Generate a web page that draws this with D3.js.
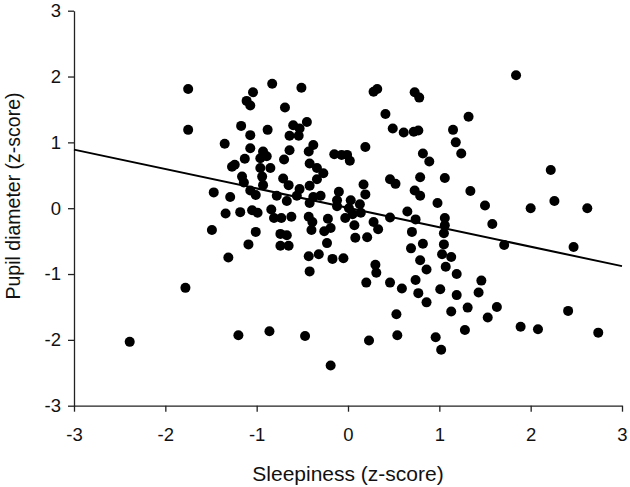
<!DOCTYPE html>
<html>
<head>
<meta charset="utf-8">
<script src="https://cdn.jsdelivr.net/npm/d3@7"></script>
<style>
  body { margin: 0; background: #fff; }
  text { font-family: "Liberation Sans", Arial, sans-serif; fill: #111; }
</style>
</head>
<body>
<script>
// sleepiness (x) and pupil diameter (y), z-scores
var sleepiness = [
  -2.39, -1.78, -1.75, -1.75, -0.83, -0.51, -1.04, -1.11, -1.07, -0.69,
  -1.17, -0.88, -1.07, -0.60, -0.53, -0.45, -0.64, -0.54, -1.35, -0.38,
  -1.07, -0.93, -0.89, -0.96, -0.64, -0.43, -1.13, -1.24, -1.27, -0.70,
  -0.96, -0.85, -0.42, -0.34, -0.27, -1.16, -0.94, -0.71, -0.34, -1.14,
  -0.93, -0.65, -0.42, -1.47, -1.29, -1.07, -1.01, -0.78, -0.67, -0.56,
  -0.53, -0.38, -0.30, -0.42, -1.34, -1.18, -1.05, -0.99, -0.84, -0.81,
  -0.73, -0.62, -0.43, -0.39, -0.40, -0.22, -0.26, -1.49, -1.01, -1.09,
  -0.74, -0.67, -0.74, -0.65, -0.23, -0.43, -0.32, -0.17, -1.31, -0.42,
  -1.20, -0.86, -0.47, -0.19, -0.19,
  0.28, 0.32, 0.73, 0.78, 1.32, 0.41, 0.49, 0.61, 0.72, 0.77,
  1.15, 1.18, 1.24, 0.19, -0.15, -0.07, -0.01, 0.02, 0.82, 0.89,
  0.46, 0.52, 0.79, 1.06, 0.17, 0.19, -0.10, -0.12, -0.12, 0.03,
  0.13, 0.01, 0.14, 0.73, 0.79, 1.34, 0.98, 0.65, 0.46, 0.74,
  1.06, 1.06, 1.05, -0.03, 0.05, 0.28, 0.33, 0.07, 0.08, 0.21,
  0.70, 0.69, 0.82, 1.05, 1.03, 1.13, 1.07, 0.79, 0.86, 0.30,
  0.31, 1.19, -0.05, 0.20, 0.46, 0.59, 0.74, 0.77, 0.86, 1.01,
  1.19, 1.31, 1.13, 0.53, 0.54, 0.23, 0.96, 1.02, 1.28,
  1.84, 2.22, 2.26, 2.62, 2.00, 1.50, 1.58, 1.71, 2.47, 1.46,
  1.43, 1.63, 1.53, 1.89, 2.08, 2.41, 2.74
];
var pupil = [
  -2.03, -1.21, 1.81, 1.19, 1.89, 1.83, 1.76, 1.63, 1.56, 1.53,
  1.25, 1.19, 1.11, 1.26, 1.21, 1.31, 1.10, 1.10, 0.98, 0.96,
  0.91, 0.86, 0.79, 0.76, 0.88, 0.86, 0.75, 0.66, 0.63, 0.74,
  0.61, 0.61, 0.68, 0.61, 0.53, 0.48, 0.48, 0.45, 0.44, 0.39,
  0.35, 0.35, 0.34, 0.24, 0.17, 0.27, 0.20, 0.19, 0.11, 0.19,
  0.29, 0.17, 0.19, 0.08, -0.08, -0.06, -0.03, -0.07, -0.02, -0.15,
  -0.15, -0.13, -0.13, -0.21, -0.33, -0.16, -0.35, -0.33, -0.36, -0.55,
  -0.39, -0.41, -0.57, -0.57, -0.53, -0.73, -0.70, -0.77, -0.75, -0.96,
  -1.93, -1.87, -1.94, -2.39, -0.30,
  1.77, 1.81, 1.76, 1.68, 1.39, 1.43, 1.21, 1.15, 1.16, 1.18,
  1.19, 1.00, 0.83, 0.93, 0.82, 0.81, 0.81, 0.72, 0.83, 0.71,
  0.44, 0.37, 0.47, 0.46, 0.36, 0.21, 0.25, 0.12, 0.03, 0.12,
  0.06, 0.00, -0.07, 0.27, 0.19, 0.26, 0.08, -0.05, -0.14, -0.17,
  -0.15, -0.26, -0.38, -0.15, -0.09, -0.21, -0.32, -0.26, -0.45, -0.44,
  -0.36, -0.61, -0.54, -0.55, -0.70, -0.74, -0.89, -0.79, -0.93, -0.86,
  -0.98, -1.00, -0.76, -1.13, -1.13, -1.22, -1.09, -1.29, -1.43, -1.23,
  -1.32, -1.51, -1.57, -1.61, -1.93, -2.01, -1.96, -2.15, -1.85,
  2.02, 0.58, 0.11, 0.00, 0.00, 0.04, -0.24, -0.56, -0.59, -1.10,
  -1.28, -1.50, -1.66, -1.80, -1.84, -1.56, -1.89
];

// fitted regression line end points
var fitX = [-3, 3];
var fitY = [0.89, -0.88];

var xTicks = [-3, -2, -1, 0, 1, 2, 3];
var yTicks = [-3, -2, -1, 0, 1, 2, 3];

var width = 630,
    height = 487,
    margin = {top: 10.7, left: 74, right: 8, bottom: 81.3};

var x = d3.scaleLinear()
    .domain([-3, 3])
    .range([margin.left, width - margin.right]);

var y = d3.scaleLinear()
    .domain([-3, 3])
    .range([height - margin.bottom, margin.top]);

var svg = d3.select("body").append("svg")
    .attr("width", width)
    .attr("height", height);

var plain = function(d) { return String(d); };

// axes
var xAxis = svg.append("g")
    .attr("transform", "translate(0," + y(-3) + ")")
    .call(d3.axisBottom(x).tickValues(xTicks).tickFormat(plain)
        .tickSize(6).tickPadding(16).tickSizeOuter(0));

var yAxis = svg.append("g")
    .attr("transform", "translate(" + x(-3) + ",0)")
    .call(d3.axisLeft(y).tickValues(yTicks).tickFormat(plain)
        .tickSize(6).tickPadding(7).tickSizeOuter(0));

[xAxis, yAxis].forEach(function(g) {
    g.selectAll("path, line").attr("stroke", "#222").attr("stroke-width", 1.3);
    g.selectAll("text")
        .style("font-size", "18.5px")
        .style("font-family", "'Liberation Sans', Arial, sans-serif")
        .attr("fill", "#111");
});

// regression line
var line = d3.line()
    .x(function(d, i) { return x(fitX[i]); })
    .y(function(d, i) { return y(fitY[i]); });

svg.append("path")
    .datum(fitX)
    .attr("d", line)
    .attr("fill", "none")
    .attr("stroke", "#000")
    .attr("stroke-width", 2);

// points
svg.append("g")
    .selectAll("circle")
    .data(sleepiness)
    .enter().append("circle")
    .attr("cx", function(d) { return x(d); })
    .attr("cy", function(d, i) { return y(pupil[i]); })
    .attr("r", 5)
    .attr("fill", "#000");

// axis titles
svg.append("text")
    .attr("x", x(0))
    .attr("y", 481)
    .attr("text-anchor", "middle")
    .style("font-size", "21px")
    .text("Sleepiness (z-score)");

svg.append("text")
    .attr("transform", "translate(19.5," + 196 + ") rotate(-90)")
    .attr("text-anchor", "middle")
    .style("font-size", "19.5px")
    .text("Pupil diameter (z-score)");
</script>
</body>
</html>
